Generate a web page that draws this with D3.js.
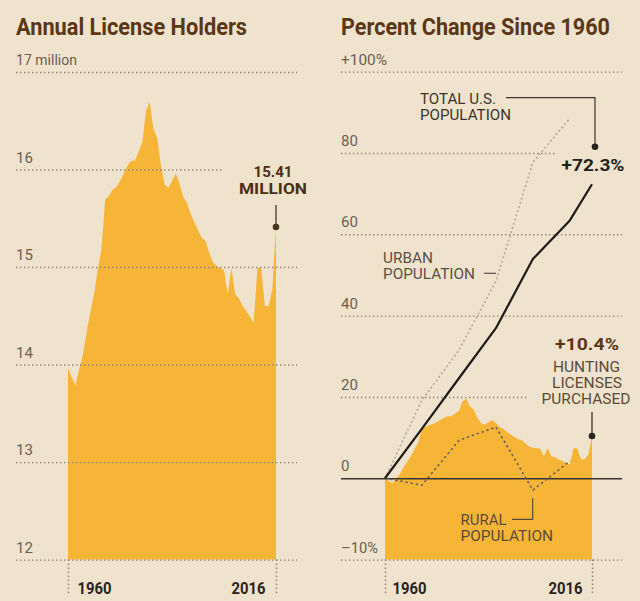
<!DOCTYPE html>
<html>
<head>
<meta charset="utf-8">
<script src="https://cdn.jsdelivr.net/npm/d3@7"></script>
<style>
  html, body { margin: 0; padding: 0; background: #efe3cd; }
  svg { display: block; font-family: Roboto, "Open Sans", sans-serif; }
</style>
</head>
<body>
<svg id="chart" width="640" height="601"></svg>
<script>
// ---------- DATA ----------
const startYear = 1960;
const endYear = 2016;
// Annual hunting license holders, millions (1960..2016)
const licenses = [
  13.96, 13.87, 13.79, 13.95, 14.10, 14.33, 14.53, 14.72, 14.97, 15.18,
  15.69, 15.73, 15.79, 15.82, 15.88, 15.96, 16.04, 16.09, 16.09, 16.18,
  16.28, 16.60, 16.69, 16.42, 16.32, 16.05, 15.85, 15.81, 15.88, 15.96,
  15.86, 15.72, 15.66, 15.55, 15.46, 15.38, 15.30, 15.27, 15.15, 15.05,
  15.01, 14.99, 14.97, 14.72, 14.99, 14.72, 14.68, 14.60, 14.55, 14.49,
  14.43, 14.99, 14.99, 14.60, 14.60, 14.77, 15.41
];
// Percent change since 1960
const popYears = [1960, 1970, 1980, 1990, 2000, 2010, 2016];
const totalPop = [0, 12.2, 24.6, 36.9, 53.9, 63.4, 72.3];
const urbanYears = [1960, 1970, 1980, 1990, 2000, 2010];
const urbanPop = [0, 19.2, 31.5, 48.4, 77.7, 88.5];
const ruralYears = [1960, 1970, 1980, 1990, 2000, 2010];
const ruralPop = [0, -1.7, 9.3, 12.6, -2.9, 4.2];

const leftTicks = [17, 16, 15, 14, 13, 12];
const leftTickLabels = ["17 million", "16", "15", "14", "13", "12"];
const rightTicks = [100, 80, 60, 40, 20, 0, -20];
const rightTickLabels = ["+100%", "80", "60", "40", "20", "0", "\u201310%"];
const yearTicks = [1960, 2016];
const yearTickLabels = ["1960", "2016"];

const titles = ["Annual License Holders", "Percent Change Since 1960"];

// ---------- STYLE ----------
const BG = "#efe3cd";
const AREA = "#f7b538";
const TITLE = "#5a3716";
const TICK = "#6a5f55";
const GRID = "#8b8379";

const svg = d3.select("#chart");
svg.append("rect").attr("width", 640).attr("height", 601).attr("fill", BG);

const years = d3.range(startYear, endYear + 1);
const licData = years.map((y, i) => ({year: y, v: licenses[i]}));
const pctData = licData.map(d => ({year: d.year, v: (d.v / licenses[0] - 1) * 100}));

// scales
const xL = d3.scaleLinear().domain([startYear, endYear]).range([68, 276]);
const yL = d3.scaleLinear().domain([12, 17]).range([559.6, 72]);
const xR = d3.scaleLinear().domain([startYear, endYear]).range([385, 592]);
const yR = d3.scaleLinear().domain([-20, 100]).range([559.6, 71.6]);

function fitText(sel, w) {
  if (w) sel.attr("textLength", w).attr("lengthAdjust", "spacingAndGlyphs");
  return sel;
}
function addText(x, y, s, o) {
  const t = svg.append("text").attr("x", x).attr("y", y).text(s)
    .attr("font-size", o.size || 14)
    .attr("font-weight", o.weight || 400)
    .attr("fill", o.fill || "#3c342c")
    .attr("text-anchor", o.anchor || "start");
  fitText(t, o.w);
  return t;
}

// titles
addText(16, 35, titles[0], {size: 24, weight: 700, fill: TITLE, w: 231});
addText(341, 35, titles[1], {size: 24, weight: 700, fill: TITLE, w: 269});

// areas
svg.append("path").datum(licData)
  .attr("fill", AREA)
  .attr("d", d3.area().x(d => xL(d.year)).y0(yL(12)).y1(d => yL(d.v)));
svg.append("path").datum(pctData)
  .attr("fill", AREA)
  .attr("d", d3.area().x(d => xR(d.year)).y0(yR(-20)).y1(d => yR(d.v)));

// y axes (gridlines + labels)
function yAxis(scale, ticks, labels, x0, len, labelWidths) {
  const g = svg.append("g").attr("transform", `translate(${x0},0)`)
    .call(d3.axisRight(scale).tickValues(ticks).tickSize(len)
      .tickFormat((d, i) => labels[i]));
  g.select(".domain").remove();
  g.selectAll(".tick line")
    .attr("stroke", GRID).attr("stroke-width", 1.4)
    .attr("stroke-dasharray", "1.4,2.6");
  g.selectAll(".tick text")
    .attr("x", 0).attr("dy", -7.5)
    .attr("text-anchor", "start")
    .attr("font-size", 15).attr("font-family", "Roboto, sans-serif")
    .attr("fill", TICK)
    .each(function(d, i) { if (labelWidths[i]) fitText(d3.select(this), labelWidths[i]); });
  return g;
}
yAxis(yL, leftTicks, leftTickLabels, 16, 281, [61, 0, 0, 0, 0, 0]);
const gR = yAxis(yR, rightTicks, rightTickLabels, 341, 281, [46, 0, 0, 0, 0, 0, 37]);
// zero line solid
gR.selectAll(".tick").filter(d => d === 0).select("line")
  .attr("stroke", "#3a332d").attr("stroke-width", 1.3).attr("stroke-dasharray", null);

// x axes
function xAxis(scale, offsets) {
  const g = svg.append("g").attr("transform", `translate(0,559.6)`)
    .call(d3.axisBottom(scale).tickValues(yearTicks).tickSize(36)
      .tickFormat((d, i) => yearTickLabels[i]));
  g.select(".domain").remove();
  g.selectAll(".tick line").attr("stroke", GRID).attr("stroke-width", 1.4)
    .attr("stroke-dasharray", "1.4,2.6");
  g.selectAll(".tick text")
    .attr("y", 34).attr("dy", 0)
    .attr("x", (d, i) => offsets[i])
    .attr("text-anchor", (d, i) => i === 0 ? "start" : "end")
    .attr("font-size", 16).attr("font-weight", 700)
    .attr("font-family", "Roboto, sans-serif")
    .attr("fill", "#2a2420")
    .attr("textLength", 34).attr("lengthAdjust", "spacingAndGlyphs");
}
xAxis(xL, [9, -11]);
xAxis(xR, [7, -10]);

// masks behind annotation labels
function mask(x, y, w, h) {
  svg.append("rect").attr("x", x).attr("y", y).attr("width", w).attr("height", h).attr("fill", BG);
}
mask(223, 158, 90, 40);
mask(555, 139, 80, 38);
mask(528, 333, 108, 77);

// population lines
const lineGen = (xs, ys) => d3.line().x((d, i) => xR(xs[i])).y(d => yR(d))(ys);
svg.append("path").attr("d", lineGen(urbanYears, urbanPop))
  .attr("fill", "none").attr("stroke", "#b3a99c").attr("stroke-width", 1.6)
  .attr("stroke-dasharray", "2,2.4");
svg.append("path").attr("d", lineGen(ruralYears, ruralPop))
  .attr("fill", "none").attr("stroke", "#6b6158").attr("stroke-width", 1.6)
  .attr("stroke-dasharray", "2.4,2.8");
svg.append("path").attr("d", lineGen(popYears, totalPop))
  .attr("fill", "none").attr("stroke", "#1f1b17").attr("stroke-width", 2.2)
  .attr("stroke-linejoin", "round");

// ---------- ANNOTATIONS ----------
const last = licData[licData.length - 1];
const lastPct = pctData[pctData.length - 1];
// 15.41 MILLION
addText(273, 177, last.v.toFixed(2), {size: 15, weight: 700, fill: "#4e2e12", anchor: "middle", w: 39});
addText(273, 194, "MILLION", {size: 15, weight: 700, fill: "#4e2e12", anchor: "middle", w: 68});
svg.append("line").attr("x1", xL(last.year)).attr("x2", xL(last.year))
  .attr("y1", 205).attr("y2", yL(last.v)).attr("stroke", "#4a3420").attr("stroke-width", 1.3);
svg.append("circle").attr("cx", xL(last.year)).attr("cy", yL(last.v)).attr("r", 3.3).attr("fill", "#4a3420");

// TOTAL U.S. POPULATION
addText(420, 104, "TOTAL U.S.", {size: 14, fill: "#3c342c", w: 76});
addText(420, 120, "POPULATION", {size: 14, fill: "#3c342c", w: 91});
svg.append("path").attr("d", "M506,97.7H595V146.8")
  .attr("fill", "none").attr("stroke", "#3c342c").attr("stroke-width", 1.2);
svg.append("circle").attr("cx", 595).attr("cy", 146.8).attr("r", 3.3).attr("fill", "#2a2420");
addText(593, 170.6, "+" + totalPop[totalPop.length - 1].toFixed(1) + "%", {size: 17, weight: 700, fill: "#231e1a", anchor: "middle", w: 63});

// URBAN POPULATION
addText(383, 262.6, "URBAN", {size: 14, fill: "#5a5048", w: 50});
addText(383, 279, "POPULATION", {size: 14, fill: "#5a5048", w: 92});
svg.append("line").attr("x1", 484).attr("x2", 496).attr("y1", 273.3).attr("y2", 273.3)
  .attr("stroke", "#5a5048").attr("stroke-width", 1.2);

// RURAL POPULATION
addText(460.5, 525, "RURAL", {size: 14, fill: "#5a4a3a", w: 46});
addText(460.5, 541, "POPULATION", {size: 14, fill: "#5a4a3a", w: 92.5});
svg.append("path").attr("d", "M512,519.4H532.7V498.3")
  .attr("fill", "none").attr("stroke", "#5a4a3a").attr("stroke-width", 1.2);

// HUNTING LICENSES PURCHASED
addText(587, 349.6, "+" + lastPct.v.toFixed(1) + "%", {size: 17, weight: 700, fill: "#5a3716", anchor: "middle", w: 64});
addText(586.5, 372, "HUNTING", {size: 14, fill: "#5e4a38", anchor: "middle", w: 67});
addText(587, 388.2, "LICENSES", {size: 14, fill: "#5e4a38", anchor: "middle", w: 70});
addText(586, 404.4, "PURCHASED", {size: 14, fill: "#5e4a38", anchor: "middle", w: 89});
svg.append("line").attr("x1", xR(lastPct.year)).attr("x2", xR(lastPct.year))
  .attr("y1", 412).attr("y2", yR(lastPct.v)).attr("stroke", "#2a2420").attr("stroke-width", 1.2);
svg.append("circle").attr("cx", xR(lastPct.year)).attr("cy", yR(lastPct.v)).attr("r", 3.3).attr("fill", "#2a2420");
</script>
</body>
</html>
